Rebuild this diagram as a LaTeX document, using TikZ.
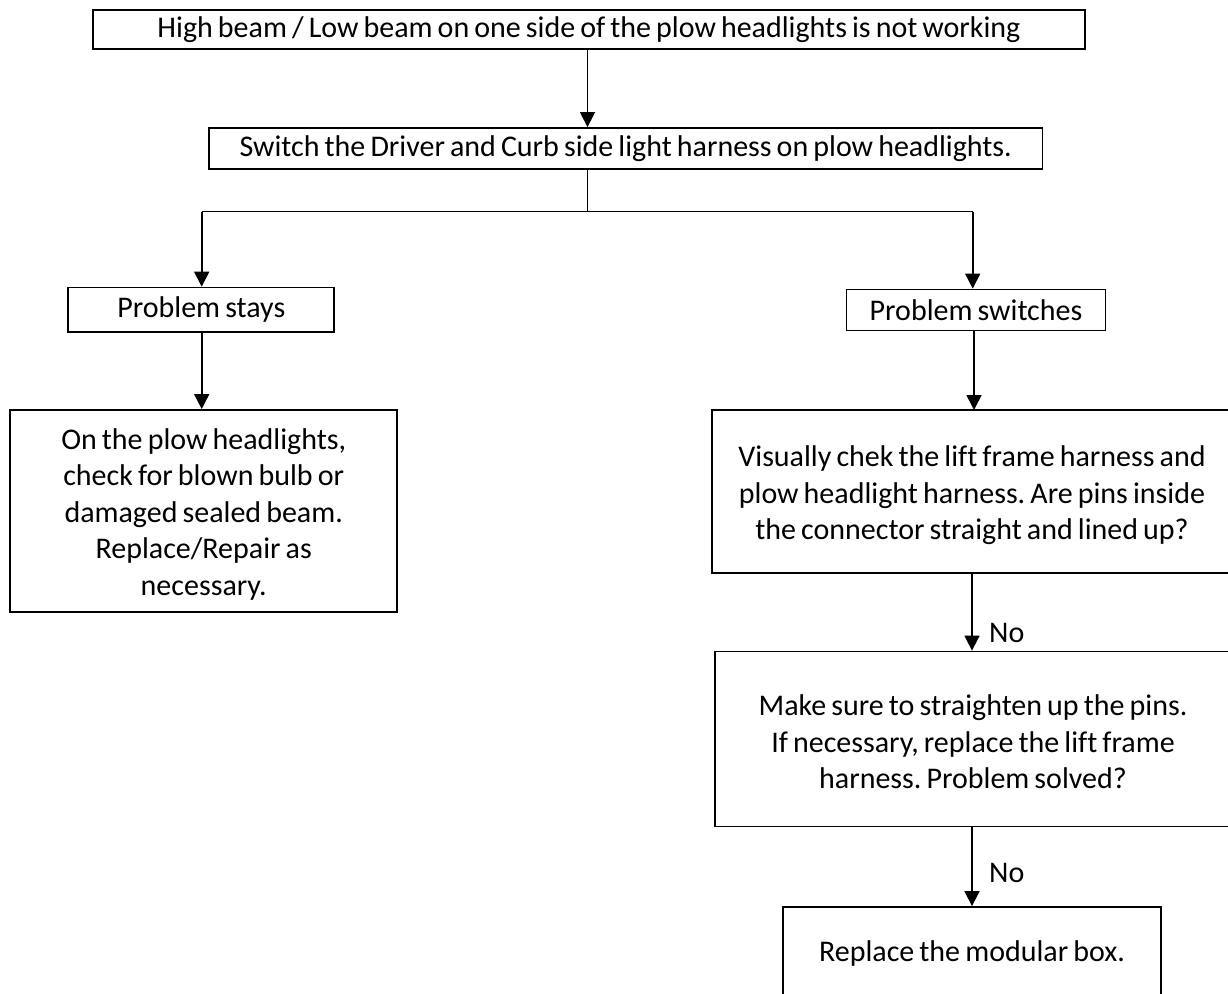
\documentclass[tikz,border=0pt]{standalone}
\usepackage{fontspec}
\setmainfont{Carlito}[WordSpace=0.75, Ligatures=NoCommon]
\frenchspacing
\usetikzlibrary{arrows.meta}
\begin{document}
\begin{tikzpicture}[x=1pt,y=-1pt,
  box/.style={draw=black, line width=1.8pt, rectangle, inner sep=0pt, align=center,
    font=\fontsize{30pt}{36.5pt}\selectfont},
  txt/.style={inner sep=0pt, align=center, font=\fontsize{30pt}{36.5pt}\selectfont},
  conn/.style={draw=black, line width=1.6pt},
  arr/.style={conn, -{Triangle[width=15pt,length=15pt]}},
  lbl/.style={inner sep=0pt, anchor=west, font=\fontsize{30pt}{36.5pt}\selectfont}
]
\clip (0,0) rectangle (1228,993);
\node[box, minimum width=992pt, minimum height=38.7pt] (top) at (589,29.4)
  {High beam / Low beam on one side of the plow headlights is not working};
\node[box, minimum width=833.5pt, minimum height=41pt] (sw) at (625.8,148.5)
  {Switch the Driver and Curb side light harness on plow headlights.};
\node[box, minimum width=266pt, minimum height=44.5pt] (stay) at (201.3,309.8)
  {Problem stays};
\node[box, minimum width=259pt, minimum height=41pt] (swi) at (976,310)
  {Problem switches};
\node[box, minimum width=387.3pt, minimum height=201.7pt] (left) at (203.7,510.8) {};
\node[txt] (leftT) at ([yshift=-3.5pt]left.center)
  {On the plow headlights,\\check for blown bulb or\\damaged sealed beam.\\Replace/Repair as\\necessary.};
\node[box, minimum width=520pt, minimum height=163pt] (r1) at (972,491.5) {};
\node[txt] (r1T) at ([yshift=-4pt]r1.center)
  {Visually chek the lift frame harness and\\plow headlight harness. Are pins inside\\the connector straight and lined up?};
\node[box, minimum width=516pt, minimum height=175pt] (r2) at (973,739) {};
\node[txt] (r2T) at ([yshift=-3pt]r2.center)
  {Make sure to straighten up the pins.\\If necessary, replace the lift frame\\harness. Problem solved?};
\node[box, minimum width=378pt, minimum height=93pt] (r3) at (972,953.5)
  {Replace the modular box.};

\coordinate (tb) at (587.5,0);
\coordinate (jM) at (587.5,211.5);
\coordinate (jL) at (201.7,211.5);
\coordinate (jR) at (972.7,211.5);
\coordinate (ax) at (972,0);

\draw[arr] (tb |- top.south) -- (tb |- sw.north);
\draw[conn] (tb |- sw.south) -- (jM);
\draw[conn] (jL) -- (jR);
\draw[arr] (jL) -- (jL |- stay.north);
\draw[arr] (jR) -- (jR |- swi.north);
\draw[arr] (jL |- stay.south) -- (jL |- left.north);
\draw[arr] (974,330.5) -- (974,410);
\draw[arr] (ax |- r1.south) -- (ax |- r2.north);
\draw[arr] (ax |- r2.south) -- (ax |- r3.north);
\node[lbl] (no1) at (989,633) {No};
\node[lbl] (no2) at (989,873) {No};
\end{tikzpicture}
\end{document}
